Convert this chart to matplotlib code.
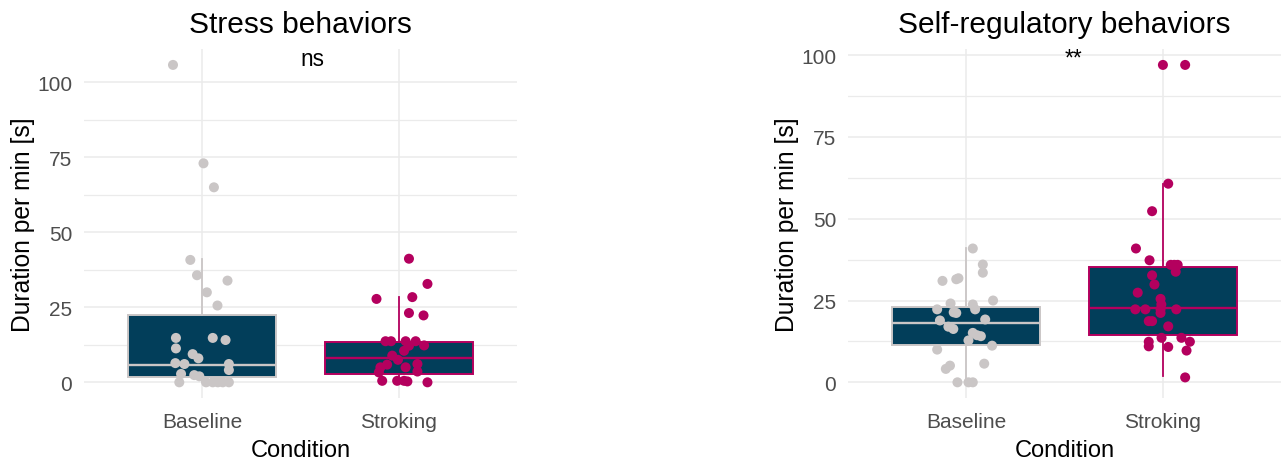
import numpy as np
import matplotlib.pyplot as plt

plt.rcParams['font.family'] = ['Liberation Sans', 'DejaVu Sans']

conditions = ["Baseline", "Stroking"]

# Stress behaviors: jittered points (value, x-offset from the category centre)
stress_base = [105.8, 73.0, 65.0, 40.8, 35.7, 33.9, 30.0, 25.6, 14.8, 14.8, 14.1,
               11.3, 9.4, 8.0, 6.4, 6.1, 6.1, 4.1, 2.8, 2.4, 2.0, 0.0, 0.0, 0.0,
               0.0, 0.0, 0.0]
stress_base_jit = [-0.148, 0.007, 0.06, -0.06, -0.026, 0.129, 0.024, 0.078, -0.133,
                   0.054, 0.119, -0.133, -0.048, -0.019, -0.136, -0.09, 0.136, 0.136,
                   -0.107, -0.04, -0.014, -0.116, 0.02, 0.054, 0.08, 0.105, 0.136]
stress_strok = [41.2, 32.8, 27.8, 28.4, 23.1, 22.3, 13.7, 13.7, 13.7, 13.7, 12.3,
                12.2, 10.5, 8.9, 7.5, 5.9, 5.0, 5.0, 6.1, 3.6, 3.3, 0.5, 0.5, 0.5,
                0.3, 0.0]
stress_strok_jit = [0.051, 0.145, -0.114, 0.068, 0.051, 0.125, -0.068, -0.04, 0.034,
                    0.085, 0.128, 0.051, 0.026, -0.034, -0.005, -0.06, -0.094, 0.034,
                    0.094, 0.094, -0.102, -0.085, -0.009, 0.026, 0.043, 0.145]

# Self-regulatory behaviors
selfreg_base = [40.9, 36.0, 33.5, 31.0, 31.8, 31.5, 25.0, 24.1, 22.3, 23.8, 22.3,
                21.4, 21.2, 18.9, 19.2, 17.0, 16.3, 15.1, 14.1, 14.4, 12.8, 11.2,
                10.0, 5.1, 4.1, 5.7, 0.0, 0.0, 0.0]
selfreg_base_jit = [0.034, 0.085, 0.085, -0.12, -0.039, -0.05, 0.137, -0.079, -0.147,
                    0.034, 0.046, -0.063, -0.05, -0.133, 0.097, -0.09, -0.065, 0.034,
                    0.075, 0.055, 0.012, 0.132, -0.147, -0.082, -0.103, 0.092, -0.044,
                    0.012, 0.034]
selfreg_strok = [97.0, 97.0, 60.7, 52.3, 40.9, 37.3, 35.9, 35.9, 35.9, 33.8, 32.7,
                 29.9, 27.4, 25.5, 23.8, 22.3, 22.3, 22.3, 22.3, 21.2, 18.7, 18.7,
                 17.1, 13.6, 13.6, 12.4, 12.4, 11.0, 10.8, 9.7, 1.5]
selfreg_strok_jit = [0.0, 0.113, 0.027, -0.055, -0.137, -0.068, 0.04, 0.058, 0.075,
                     0.065, -0.055, -0.043, -0.128, -0.012, -0.008, -0.14, -0.089,
                     -0.012, 0.068, -0.012, -0.072, -0.055, 0.027, -0.007, 0.094,
                     0.137, -0.072, -0.072, 0.027, 0.12, 0.113]

# box statistics as drawn: q1, median, q3, lower whisker, upper whisker
stress_box = [(1.8, 5.9, 22.3, 0.0, 41.0), (2.7, 8.1, 13.5, 0.0, 28.4)]
selfreg_box = [(11.3, 18.0, 23.1, 0.0, 41.1), (14.4, 22.6, 35.2, 1.8, 60.5)]

titles = ["Stress behaviors", "Self-regulatory behaviors"]
signif = ["ns", "**"]

box_fill = "#023E5A"
grey = "#CAC6C6"
magenta = "#B4005E"
cols = [grey, magenta]

fig = plt.figure(figsize=(12.81, 4.60), dpi=100)
ax_l = fig.add_axes([0.0656, 0.1322, 0.338, 0.759])
ax_r = fig.add_axes([0.662, 0.1322, 0.338, 0.759])

panels = [
    (ax_l, titles[0], [(stress_base, stress_base_jit), (stress_strok, stress_strok_jit)], stress_box, signif[0]),
    (ax_r, titles[1], [(selfreg_base, selfreg_base_jit), (selfreg_strok, selfreg_strok_jit)], selfreg_box, signif[1]),
]

for ax, title, groups, box, lab in panels:
    for i, (st, col) in enumerate(zip(box, cols)):
        q1, med, q3, lo, hi = st
        ax.bxp([dict(q1=q1, med=med, q3=q3, whislo=lo, whishi=hi, label=conditions[i])],
               positions=[i + 1], widths=0.75, patch_artist=True, showcaps=False,
               showfliers=False, manage_ticks=False,
               boxprops=dict(facecolor=box_fill, edgecolor=col, linewidth=1.4),
               medianprops=dict(color=col, linewidth=1.7),
               whiskerprops=dict(color=col, linewidth=1.3))
    allvals = []
    for i, ((vals, jit), col) in enumerate(zip(groups, cols)):
        ax.scatter(i + 1 + np.array(jit), vals, s=52, color=col, edgecolors='none', zorder=3)
        allvals += vals
    ymax = max(allvals)
    ax.set_ylim(-0.05 * ymax, 1.05 * ymax)
    ax.set_xlim(0.4, 2.6)
    ax.text(1.5, ymax, lab, ha='left', va='baseline', fontsize=16.3, clip_on=True, zorder=4)

    ax.set_xticks([1, 2], conditions)
    ax.set_yticks([0, 25, 50, 75, 100])
    ax.set_yticks([12.5, 37.5, 62.5, 87.5], minor=True)
    ax.grid(True, which='major', color='#EBEBEB', linewidth=1.1, zorder=0)
    ax.grid(True, which='minor', axis='y', color='#EBEBEB', linewidth=0.9, zorder=0)
    ax.set_axisbelow(True)
    for s in ax.spines.values():
        s.set_visible(False)
    ax.tick_params(axis='both', which='both', length=0, labelsize=15, labelcolor='#4D4D4D')
    ax.tick_params(axis='y', pad=8.5)
    ax.tick_params(axis='x', pad=10)

    ax.set_title(title, fontsize=21.5, pad=12.5)
    ax.set_xlabel("Condition", fontsize=17)
    ax.set_ylabel("Duration per min [s]", fontsize=17.7)
    ax.xaxis.set_label_coords(0.5, -0.116)
    ax.yaxis.set_label_coords(-0.113, 0.5)

fig.savefig("out.png", dpi=100)
